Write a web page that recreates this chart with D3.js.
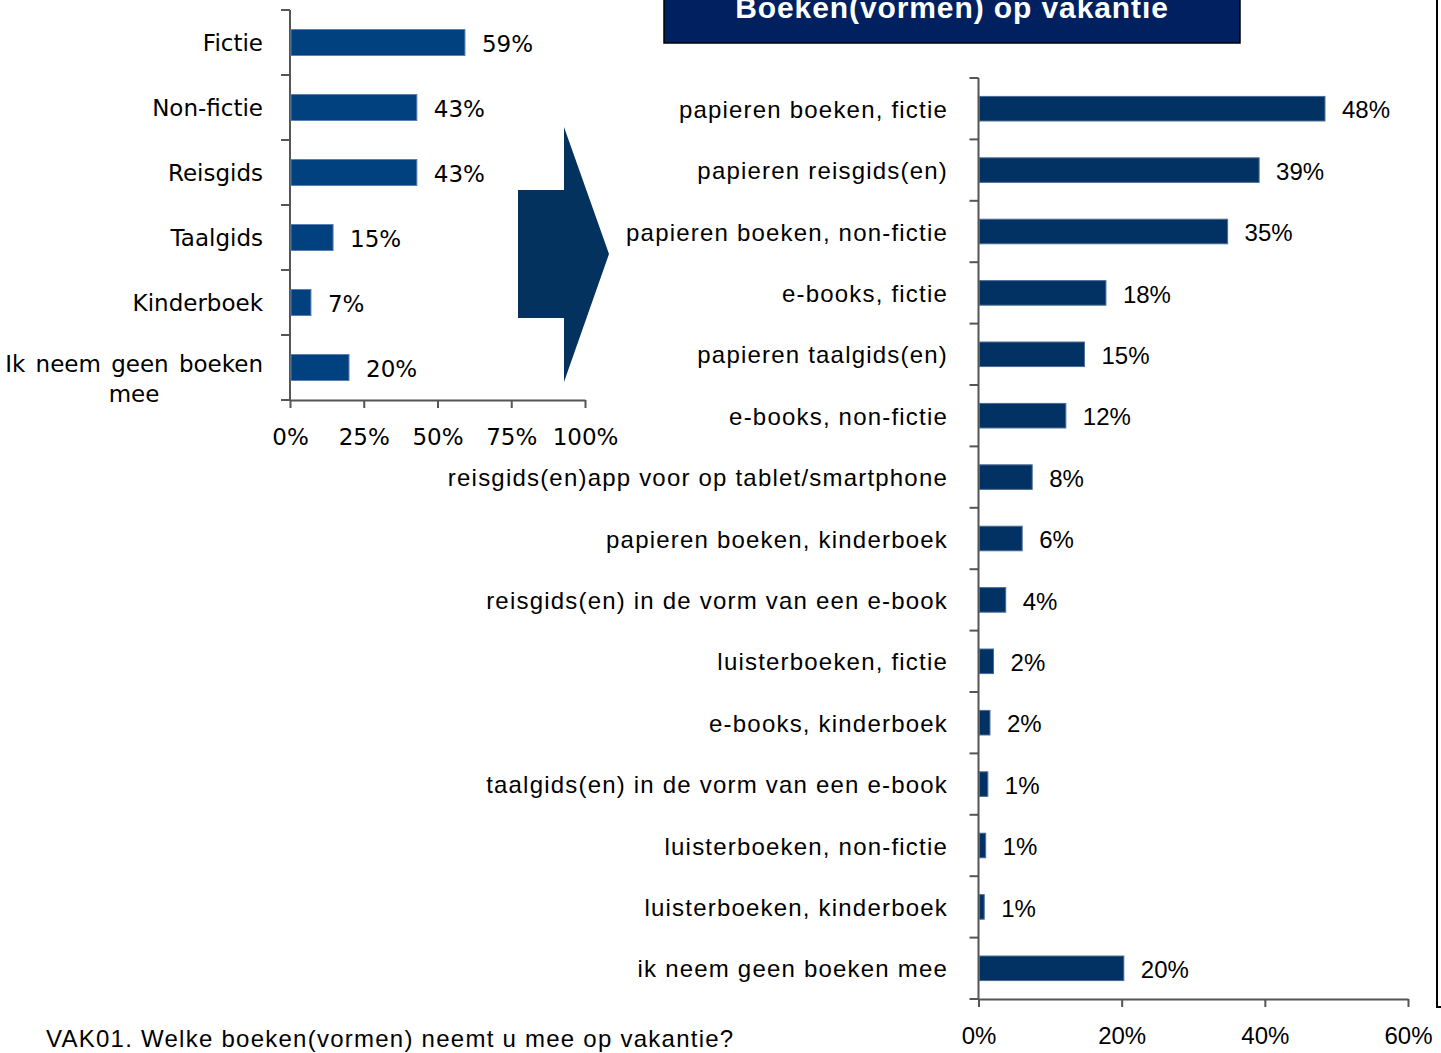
<!DOCTYPE html>
<html>
<head>
<meta charset="utf-8">
<script src="https://cdn.jsdelivr.net/npm/d3@7"></script>
<style>
  body { margin: 0; background: #fff; }
  svg { display: block; }
  .lbl-left { font-family: "DejaVu Sans", sans-serif; font-size: 23px; fill: #000; }
  .lbl-right { font-family: "Liberation Sans", Arial, sans-serif; font-size: 24px; fill: #000; letter-spacing: 1.2px; }
</style>
</head>
<body>
<svg id="chart" width="1441" height="1053"></svg>
<script>
// left chart: what people take along
const leftCats = ["Fictie", "Non-fictie", "Reisgids", "Taalgids", "Kinderboek", "Ik neem geen boeken\nmee"]
const leftVals = [59.3, 43.0, 43.0, 14.6, 7.1, 20.0]
const leftTicks = [0, 25, 50, 75, 100]

// right chart: which book formats
const rightCats = [
  "papieren boeken, fictie",
  "papieren reisgids(en)",
  "papieren boeken, non-fictie",
  "e-books, fictie",
  "papieren taalgids(en)",
  "e-books, non-fictie",
  "reisgids(en)app voor op tablet/smartphone",
  "papieren boeken, kinderboek",
  "reisgids(en) in de vorm van een e-book",
  "luisterboeken, fictie",
  "e-books, kinderboek",
  "taalgids(en) in de vorm van een e-book",
  "luisterboeken, non-fictie",
  "luisterboeken, kinderboek",
  "ik neem geen boeken mee"
]
const rightVals = [48.4, 39.2, 34.8, 17.8, 14.8, 12.2, 7.5, 6.1, 3.8, 2.1, 1.6, 1.3, 1.0, 0.8, 20.3]
const rightTicks = [0, 20, 40, 60]

const title = "Boeken(vormen) op vakantie"
const footnote = "VAK01. Welke boeken(vormen) neemt u mee op vakantie?"

const svg = d3.select("#chart")

const drawBars = (opt) => {
  const g = svg.append("g")
  const x = d3.scaleLinear().domain(opt.domain).range([opt.x0, opt.x1])
  const y = d3.scaleBand().domain(opt.cats).range([opt.y0, opt.y1]).paddingInner(0.6).paddingOuter(0.3)

  // vertical axis line + category ticks at band edges
  g.append("line")
    .attr("x1", opt.x0).attr("x2", opt.x0).attr("y1", opt.y0).attr("y2", opt.y1)
    .attr("stroke", "#555").attr("stroke-width", 2)
  g.selectAll(".ctick").data(d3.range(opt.cats.length + 1)).enter().append("line")
    .attr("x1", opt.x0 - 9).attr("x2", opt.x0)
    .attr("y1", i => opt.y0 + i * (opt.y1 - opt.y0) / opt.cats.length)
    .attr("y2", i => opt.y0 + i * (opt.y1 - opt.y0) / opt.cats.length)
    .attr("stroke", "#555").attr("stroke-width", 2)

  // bottom axis
  const axis = g.append("g")
    .attr("transform", `translate(0,${opt.y1})`)
    .call(d3.axisBottom(x).tickValues(opt.ticks).tickSize(8).tickSizeOuter(0).tickFormat(d => d + "%"))
  axis.select(".domain").attr("stroke", "#555").attr("stroke-width", 2)
  axis.selectAll(".tick line").attr("stroke", "#555").attr("stroke-width", 2)
  axis.selectAll(".tick text").attr("class", opt.cls).attr("font-size", null).attr("font-family", null)
    .attr("y", opt.tickY).attr("dy", 0).style("letter-spacing", "0px")

  g.selectAll(".bar").data(opt.vals).enter().append("rect")
    .attr("x", opt.x0 + 1)
    .attr("y", (d, i) => y(opt.cats[i]))
    .attr("width", d => x(d) - opt.x0 - 1)
    .attr("height", y.bandwidth())
    .attr("fill", opt.color)
    .attr("stroke", opt.edge).attr("stroke-width", 1)

  g.selectAll(".val").data(opt.vals).enter().append("text")
    .attr("class", opt.cls)
    .attr("x", d => x(d) + 17)
    .attr("y", (d, i) => y(opt.cats[i]) + y.bandwidth() / 2)
    .attr("dy", "0.4em")
    .style("letter-spacing", "0px")
    .text(d => Math.round(d) + "%")

  opt.cats.forEach((c, i) => {
    const lines = c.split("\n")
    const cy = y(c) + y.bandwidth() / 2
    const t = g.append("text").attr("class", opt.cls).attr("text-anchor", "end")
      .attr("x", opt.labelX)
      .attr("y", cy).attr("dy", "0.38em")
    if (lines.length === 1) {
      t.text(c)
    } else {
      // wrapped label: lines centred on each other, block right-aligned
      t.attr("text-anchor", "middle").style("word-spacing", "3px")
      lines.forEach((l, k) => t.append("tspan").attr("x", opt.labelX).attr("y", cy + k * 30).attr("dy", "0.2em").text(l))
      const w = t.node().getBBox().width
      t.selectAll("tspan").attr("x", opt.labelX - w / 2)
    }
  })
}

drawBars({
  cats: leftCats, vals: leftVals, ticks: leftTicks, domain: [0, 100],
  x0: 290, x1: 585, y0: 10, y1: 400, labelX: 263, tickY: 45,
  color: "#02417f", edge: "#5a7fb0", cls: "lbl-left"
})

drawBars({
  cats: rightCats, vals: rightVals, ticks: rightTicks, domain: [0, 60],
  x0: 978.5, x1: 1408, y0: 78, y1: 999, labelX: 948, tickY: 45,
  color: "#023263", edge: "#4a6a95", cls: "lbl-right"
})

// the arrow between the two charts
svg.append("path")
  .attr("d", d3.line()([[518, 190], [564, 190], [564, 127], [609, 254], [564, 382], [564, 318], [518, 318]]) + "Z")
  .attr("fill", "#03325f")

// title box
svg.append("rect").attr("x", 664).attr("y", -10).attr("width", 576).attr("height", 53)
  .attr("fill", "#002060").attr("stroke", "#000").attr("stroke-width", 1.5)
svg.append("text").attr("x", 952).attr("y", 18).attr("text-anchor", "middle")
  .attr("font-family", "Liberation Sans, Arial, sans-serif").attr("font-weight", "bold")
  .attr("font-size", 30).attr("letter-spacing", 0.9).attr("fill", "#fff").text(title)

// frame edge on the right
svg.append("path").attr("d", "M1437,0V1007H1441").attr("fill", "none").attr("stroke", "#000").attr("stroke-width", 2)

svg.append("text").attr("x", 46).attr("y", 1047)
  .attr("font-family", "Liberation Sans, Arial, sans-serif").attr("font-size", 24).attr("fill", "#000")
  .attr("letter-spacing", 1.25)
  .text(footnote)
</script>
</body>
</html>
